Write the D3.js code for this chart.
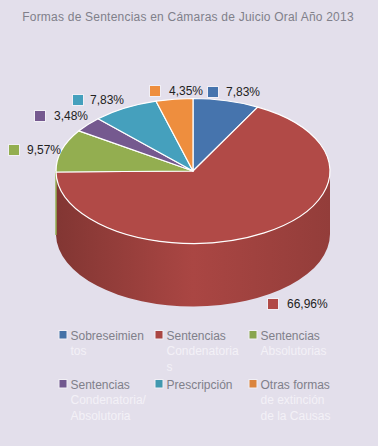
<!DOCTYPE html>
<html>
<head>
<meta charset="utf-8">
<script src="https://cdn.jsdelivr.net/npm/d3@7"></script>
<style>
html, body { margin: 0; padding: 0; background: #e3dfeb; }
svg { display: block; }
text { font-family: "Liberation Sans", Arial, sans-serif; }
</style>
</head>
<body>
<div id="chart"></div>
<script>
var categories = ["Sobreseimientos", "Sentencias Condenatorias", "Sentencias Absolutorias",
    "Sentencias Condenatoria/ Absolutoria", "Prescripción", "Otras formas de extinción de la Causas"];
var values = [7.83, 66.96, 9.57, 3.48, 7.83, 4.35];
var valueLabels = ["7,83%", "66,96%", "9,57%", "3,48%", "7,83%", "4,35%"];
var colors = ["#4572a7", "#aa4643", "#89a54e", "#71588f", "#4198af", "#db843d"];
var topColors = ["#4674ad", "#b14a47", "#93ae50", "#75598f", "#45a0bd", "#ee8e3e"];
var legendLines = [["Sobreseimien", "tos"], ["Sentencias", "Condenatoria", "s"], ["Sentencias", "Absolutorias"],
    ["Sentencias", "Condenatoria/", "Absolutoria"], ["Prescripción"], ["Otras formas", "de extinción", "de la Causas"]];
var title = "Formas de Sentencias en Cámaras de Juicio Oral Año 2013";

var width = 378, height = 446;
var cx = 193, cy = 171, rx = 137, ry = 72.5, depth = 63;

var svg = d3.select("#chart").append("svg").attr("width", width).attr("height", height);

svg.append("rect").attr("width", width).attr("height", height).attr("fill", "#e3dfeb");

svg.append("text").attr("x", 188).attr("y", 21).attr("text-anchor", "middle")
    .attr("font-size", 12).attr("letter-spacing", 0.22).attr("fill", "#80808a").text(title);

var pie = d3.pie().sort(null).value(function(d){ return d; });
var arcs = pie(values);

// the squash of the circle into an ellipse
var x = d3.scaleLinear().domain([-1, 1]).range([cx - rx, cx + rx]);
var y = d3.scaleLinear().domain([-1, 1]).range([cy - ry, cy + ry]);

var defs = svg.append("defs");
colors.forEach(function(c, i){
    var g = defs.append("linearGradient").attr("id", "side" + i)
        .attr("gradientUnits", "userSpaceOnUse")
        .attr("x1", x(-1)).attr("x2", x(1)).attr("y1", 0).attr("y2", 0);
    g.append("stop").attr("offset", "0%").attr("stop-color", d3.rgb(c).darker(0.75));
    g.append("stop").attr("offset", "50%").attr("stop-color", c);
    g.append("stop").attr("offset", "100%").attr("stop-color", d3.rgb(c).darker(0.4));
});

// side wall, only the front half of the ellipse shows
function wallPath(d) {
    var a0 = Math.max(d.startAngle, Math.PI / 2), a1 = Math.min(d.endAngle, Math.PI * 1.5);
    if (a1 <= a0) return null;
    var px0 = x(Math.sin(a0)), py0 = y(-Math.cos(a0)), px1 = x(Math.sin(a1)), py1 = y(-Math.cos(a1));
    return "M" + px0 + "," + py0 +
        "A" + rx + "," + ry + " 0 0 1 " + px1 + "," + py1 +
        "L" + px1 + "," + (py1 + depth) +
        "A" + rx + "," + ry + " 0 0 0 " + px0 + "," + (py0 + depth) + "Z";
}

svg.append("g").selectAll("path").data(arcs).enter().append("path")
    .attr("d", wallPath)
    .attr("fill", function(d, i){ return "url(#side" + i + ")"; })
    .attr("stroke", function(d, i){ return i == 2 ? topColors[2] : "none"; });

var arc = d3.arc().innerRadius(0).outerRadius(rx);

svg.append("g")
    .attr("transform", "translate(" + cx + "," + cy + ") scale(1," + (ry / rx) + ")")
    .selectAll("path").data(arcs).enter().append("path")
    .attr("d", arc)
    .attr("fill", function(d, i){ return topColors[i]; })
    .attr("stroke", "#fff")
    .attr("stroke-width", 1.2)
    .attr("stroke-linejoin", "round")
    .attr("vector-effect", "non-scaling-stroke");

// value labels with their little keys
var keyX = [213, 273, 14, 40, 78, 155];
var keyY = [92, 304, 150, 116, 100, 91];
var labelX = [226, 287, 27, 54, 90, 169];

var labels = svg.append("g").selectAll("g").data(arcs).enter().append("g");
labels.append("rect")
    .attr("x", function(d, i){ return keyX[i] - 5.5; })
    .attr("y", function(d, i){ return keyY[i] - 5.5; })
    .attr("width", 11).attr("height", 11)
    .attr("fill", function(d, i){ return topColors[i]; })
    .attr("stroke", "#f1eff5");
labels.append("text")
    .attr("x", function(d, i){ return labelX[i]; })
    .attr("y", function(d, i){ return keyY[i] + 4; })
    .attr("font-size", 12).attr("fill", "#222")
    .text(function(d, i){ return valueLabels[i]; });

// legend
var legX = [59, 155, 249, 59, 155, 249];
var legY = [336, 336, 336, 385, 385, 385];
var legend = svg.append("g").selectAll("g").data(categories).enter().append("g")
    .attr("transform", function(d, i){ return "translate(" + legX[i] + "," + legY[i] + ")"; });
legend.append("rect")
    .attr("x", 0).attr("y", -5.5).attr("width", 8).attr("height", 8.5)
    .attr("fill", function(d, i){ return colors[i]; })
    .attr("stroke", "#f1eff5");
legend.selectAll("text").data(function(d, i){ return legendLines[i]; }).enter().append("text")
    .attr("x", 11.5)
    .attr("y", function(d, j){ return 4 + j * 15.3; })
    .attr("font-size", 12)
    .attr("fill", function(d, j){ return j == 0 ? "#80808a" : "#f3f1f7"; })
    .text(function(d){ return d; });
</script>
</body>
</html>
